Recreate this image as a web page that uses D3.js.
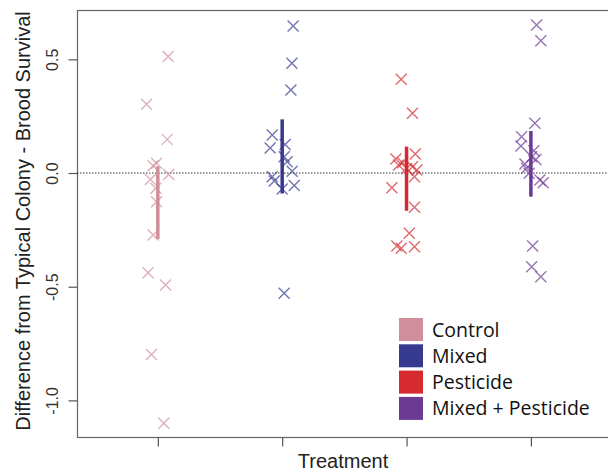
<!DOCTYPE html>
<html><head><meta charset="utf-8">
<script src="https://cdn.jsdelivr.net/npm/d3@7"></script>
<style>body{margin:0;background:#fff}svg{display:block}</style>
</head><body>
<script>
const treatments = ["Control","Mixed","Pesticide","Mixed + Pesticide"];
const colors = ["#d08e9c","#363a8f","#d42a30","#6b3a93"];
const yTicks = [-1.0,-0.5,0.0,0.5];
const yTickLabels = ["-1.0","-0.5","0.0","0.5"];
const controlVals = [0.512,0.302,0.148,0.043,0.032,-0.006,-0.028,-0.067,-0.126,-0.273,-0.439,-0.493,-0.798,-1.101];
const controlJit  = [0.083,-0.091,0.075,-0.010,-0.038,0.088,-0.059,-0.016,-0.010,-0.038,-0.078,0.062,-0.051,0.048];
const mixedVals = [0.647,0.483,0.365,0.167,0.110,0.125,0.072,0.050,0.008,-0.016,-0.035,-0.055,-0.070,-0.529];
const mixedJit  = [0.088,0.078,0.070,-0.080,-0.097,0.024,0.016,0.040,0.080,-0.080,-0.064,0.097,0.000,0.016];
const pestVals = [0.412,0.263,0.084,0.062,0.045,0.035,0.028,0.020,0.013,-0.016,-0.065,-0.151,-0.265,-0.321,-0.331,-0.324];
const pestJit  = [-0.043,0.048,0.070,-0.086,-0.032,-0.064,0.048,0.000,0.083,0.064,-0.118,0.064,0.022,-0.078,-0.043,0.064];
const mixPestVals = [0.651,0.582,0.219,0.160,0.119,0.098,0.072,0.060,0.040,0.021,-0.001,-0.031,-0.043,-0.321,-0.412,-0.456];
const mixPestJit  = [0.046,0.080,0.032,-0.075,-0.080,0.024,0.006,0.040,-0.048,-0.035,-0.014,0.072,0.099,0.014,0.006,0.080];
const barHigh = [0.03,0.236,0.116,0.185];
const barLow  = [-0.29,-0.09,-0.166,-0.104];

const groupVals = [controlVals,mixedVals,pestVals,mixPestVals];
const groupJit = [controlJit,mixedJit,pestJit,mixPestJit];

const W=608,H=471;
const L=77,T=10,B=437,R=614;
const svg=d3.select("body").append("svg").attr("width",W).attr("height",H);
const x=d3.scaleLinear().domain([0.35,4.62]).range([L,608]);
const y=d3.scaleLinear().domain([-1.161,0.717]).range([B,T]);

// box
svg.append("rect").attr("x",L+0.5).attr("y",T+0.5).attr("width",R-L).attr("height",B-T)
  .attr("fill","none").attr("stroke","#666").attr("stroke-width",1.2);

// zero line
svg.append("line").attr("x1",L).attr("x2",608).attr("y1",y(0)).attr("y2",y(0))
  .attr("stroke","#333").attr("stroke-width",1).attr("stroke-dasharray","1.5,1.5");

// y axis
const yAxis=d3.axisLeft(y).tickValues(yTicks).tickSize(9).tickFormat((d,i)=>yTickLabels[i]);
const gy=svg.append("g").attr("transform",`translate(${L+0.5},0)`).call(yAxis);
gy.select(".domain").remove();
gy.selectAll(".tick line").attr("stroke","#555").attr("stroke-width",1.2);
gy.selectAll(".tick text").attr("fill","#333").attr("font-family","Liberation Sans, Arial, sans-serif")
  .attr("font-size",16).attr("text-anchor","middle").attr("x",0).attr("dy",0)
  .attr("transform","translate(-20,0) rotate(-90)");

// x axis
const xAxis=d3.axisBottom(x).tickValues([1,2,3,4]).tickSize(9).tickFormat("");
const gx=svg.append("g").attr("transform",`translate(0,${B+0.5})`).call(xAxis);
gx.select(".domain").remove();
gx.selectAll(".tick line").attr("stroke","#555").attr("stroke-width",1.2);

// titles
svg.append("text").attr("x",343).attr("y",468).attr("text-anchor","middle")
  .attr("font-family","Liberation Sans, Arial, sans-serif").attr("font-size",20).attr("fill","#222").text("Treatment");
svg.append("text").attr("transform",`translate(30,221) rotate(-90)`).attr("text-anchor","middle")
  .attr("font-family","Liberation Sans, Arial, sans-serif").attr("font-size",20).attr("fill","#222")
  .text("Difference from Typical Colony - Brood Survival");

// points
const s=5.5;
groupVals.forEach((vals,g)=>{
  const gg=svg.append("g").attr("stroke",colors[g]).attr("stroke-width",1.4).attr("stroke-opacity",0.7);
  vals.forEach((v,i)=>{
    const cx=x(g+1+groupJit[g][i]), cy=y(v);
    gg.append("path").attr("d",`M${cx-s},${cy-s}L${cx+s},${cy+s}M${cx-s},${cy+s}L${cx+s},${cy-s}`);
  });
  svg.append("line").attr("x1",x(g+1)).attr("x2",x(g+1)).attr("y1",y(barHigh[g])).attr("y2",y(barLow[g]))
    .attr("stroke",colors[g]).attr("stroke-width",3.5);
});

// legend
const lg=svg.append("g");
treatments.forEach((t,i)=>{
  const yy=318+i*26.3;
  lg.append("rect").attr("x",399).attr("y",yy).attr("width",24).attr("height",23).attr("fill",colors[i]);
  lg.append("text").attr("x",432).attr("y",yy+18.5).attr("font-family","Open Sans, Lato, sans-serif")
    .attr("font-size",19.5).attr("fill","#111").text(t);
});
</script>
</body></html>
